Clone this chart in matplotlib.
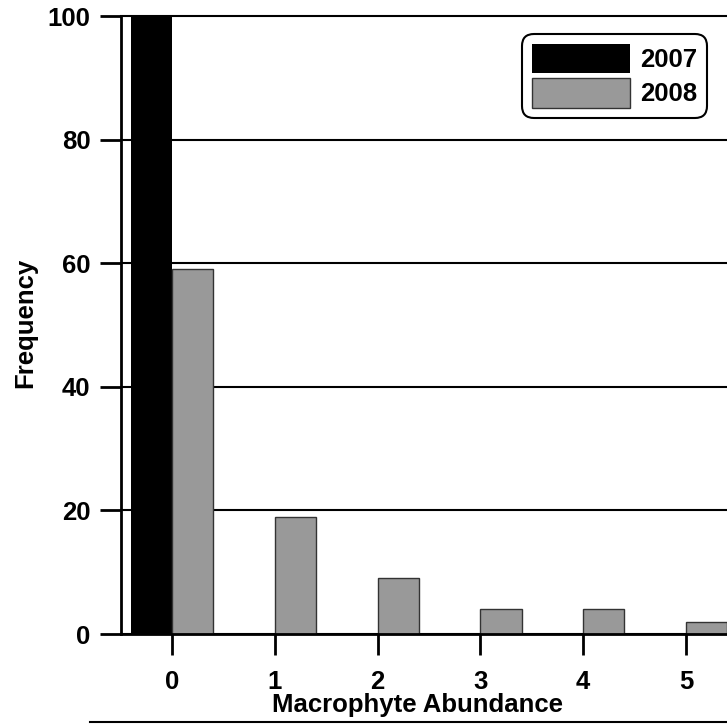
import matplotlib
matplotlib.use('Agg')
import matplotlib.pyplot as plt
from matplotlib.lines import Line2D

plt.rcParams['font.family'] = ['Liberation Sans', 'DejaVu Sans']
plt.rcParams['font.weight'] = 'bold'

categories = [0, 1, 2, 3, 4, 5]
freq_2007 = [100, 0, 0, 0, 0, 0]
freq_2008 = [59, 19, 9, 4, 4, 2]
y_ticks = [0, 20, 40, 60, 80, 100]
series_labels = ['2007', '2008']

W, H = 727, 725
fs = 18.5
fig = plt.figure(figsize=(W / 100, H / 100), dpi=100)
ax = fig.add_axes([121 / W, 91 / H, 606 / W, 618 / H])

bar_w = 0.4
ax.bar([c - bar_w for c in categories], freq_2007, width=bar_w, align='edge',
       color='black', edgecolor='black', linewidth=0, label=series_labels[0])
ax.bar(categories, freq_2008, width=bar_w, align='edge',
       color='#999999', edgecolor='#333333', linewidth=1.0, label=series_labels[1])

ax.set_xlim(-0.496, 5.399)
ax.set_ylim(0, 100)
ax.set_xticks(categories)
ax.set_yticks(y_ticks)
ax.set_axisbelow(True)
ax.yaxis.grid(True, color='black', linewidth=1.5)
for gl in ax.get_ygridlines():
    gl.set_clip_on(False)

for s in ['top', 'right']:
    ax.spines[s].set_visible(False)
for s in ['left', 'bottom']:
    ax.spines[s].set_linewidth(2.0)
    ax.spines[s].set_zorder(3)

ax.tick_params(axis='both', direction='out', length=15, width=2.0,
               labelsize=fs)
ax.tick_params(axis='y', pad=7)
ax.tick_params(axis='x', pad=11)
for lbl in ax.get_xticklabels() + ax.get_yticklabels():
    lbl.set_fontweight('bold')

fig.text(418 / W, (H - 712) / H, 'Macrophyte Abundance', ha='center',
         va='baseline', fontsize=fs, fontweight='bold')
fig.text(25 / W, (H - 323) / H, 'Frequency', ha='center', va='center',
         rotation=90, fontsize=fs, fontweight='bold')

fig.add_artist(Line2D([90 / W, 1.0], [(H - 722) / H, (H - 722) / H],
                      color='black', linewidth=1.5))

leg = ax.legend(loc='upper right',
                bbox_to_anchor=((707 - 121) / 606, (634 - 34) / 618),
                fontsize=fs, handlelength=3.8, handleheight=1.4,
                labelspacing=0.18, handletextpad=0.4, borderpad=0.38,
                borderaxespad=0, fancybox=True, framealpha=1,
                edgecolor='black')
leg.get_frame().set_linewidth(1.5)
leg.get_frame().set_boxstyle('round', pad=0, rounding_size=0.45)
for t in leg.get_texts():
    t.set_fontweight('bold')

fig.savefig('out.png', dpi=100)
